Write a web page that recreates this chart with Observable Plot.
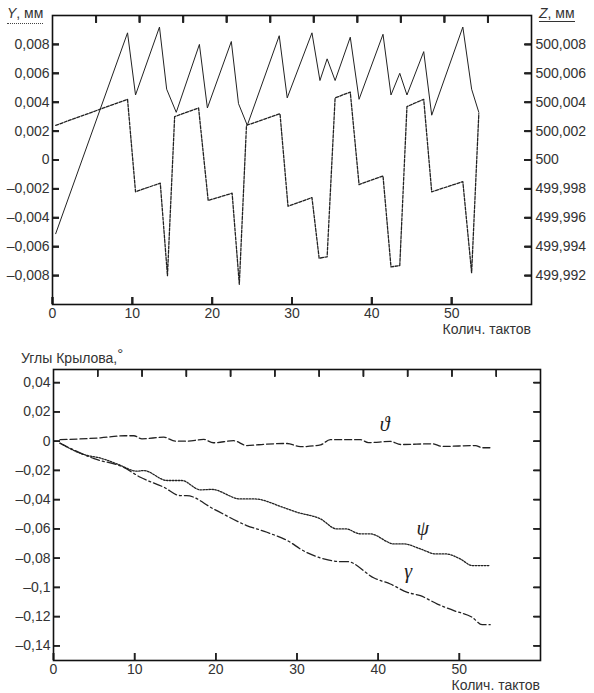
<!DOCTYPE html>
<html><head><meta charset="utf-8">
<script src="https://cdn.jsdelivr.net/npm/d3@7"></script>
<script src="https://cdn.jsdelivr.net/npm/@observablehq/plot@0.6"></script>
<style>
body{margin:0;background:#fff;font-family:"Liberation Sans",Arial,sans-serif;}
#wrap{position:relative;width:594px;height:693px;overflow:hidden;}
#wrap svg{position:absolute;left:0;}
.lbl{position:absolute;font-size:14px;line-height:1;color:#333;white-space:nowrap;}
</style></head><body><div id="wrap"></div>
<script>
// ---------- top chart: Y (dashed) and Z (solid, right axis = 500 + value) ----------
const yX = [0.4, 9.4, 10.4, 13.5, 14.4, 15.3, 18.3, 19.5, 22.5, 23.4, 24.3, 28.5, 29.5, 32.5, 33.4, 34.4, 35.4, 37.3, 38.4, 41.4, 42.4, 43.5, 44.4, 46.5, 47.5, 51.4, 52.5, 53.4];
const yVal = [0.0024, 0.0042, -0.0022, -0.0016, -0.0080, 0.0030, 0.0036, -0.0028, -0.0023, -0.0086, 0.0024, 0.0032, -0.0032, -0.0026, -0.0068, -0.0067, 0.0043, 0.0047, -0.0017, -0.0011, -0.0074, -0.0073, 0.0037, 0.0042, -0.0022, -0.0015, -0.0078, 0.0032];
const zX = [0.4, 9.4, 10.4, 13.4, 14.3, 15.5, 18.4, 19.4, 22.4, 23.3, 24.4, 28.4, 29.4, 32.5, 33.5, 34.4, 35.4, 37.3, 38.4, 41.4, 42.4, 43.5, 44.4, 46.5, 47.5, 51.4, 52.5, 53.4];
const zOffset = [-0.0051, 0.0088, 0.0045, 0.0092, 0.0049, 0.0033, 0.0080, 0.0036, 0.0082, 0.0039, 0.0024, 0.0086, 0.0043, 0.0088, 0.0055, 0.0070, 0.0055, 0.0085, 0.0042, 0.0087, 0.0045, 0.0060, 0.0045, 0.0075, 0.0031, 0.0092, 0.0049, 0.0033];
const zBase = 500;

// ---------- bottom chart: Krylov angles ----------
const thetaX = [0.8, 5.8, 8.8, 9.9, 10.9, 13.6, 15.0, 16.4, 18.5, 19.7, 22.2, 23.8, 26.3, 28.8, 30.4, 32.9, 34.1, 37.8, 38.8, 41.5, 42.8, 46.7, 47.9, 52.0, 52.8, 53.8];
const thetaY = [0.0010, 0.0023, 0.0037, 0.0037, 0.0016, 0.0027, 0.0000, 0.0000, 0.0012, -0.0011, 0.0003, -0.0030, -0.0020, -0.0016, -0.0038, -0.0025, 0.0010, 0.0010, -0.0010, -0.0002, -0.0023, -0.0018, -0.0036, -0.0030, -0.0045, -0.0045];
const psiX = [0.8, 3.7, 5.8, 7.8, 10.3, 11.1, 14.0, 15.8, 18.1, 19.5, 23.0, 24.7, 28.4, 30.0, 32.9, 34.9, 36.0, 37.8, 39.0, 42.0, 43.2, 45.2, 47.1, 48.3, 50.1, 51.6, 53.8];
const psiY = [-0.0014, -0.0091, -0.0116, -0.0155, -0.0205, -0.0201, -0.0269, -0.0269, -0.0333, -0.0330, -0.0395, -0.0395, -0.0455, -0.0486, -0.0532, -0.0600, -0.0600, -0.0634, -0.0634, -0.0703, -0.0703, -0.0737, -0.0771, -0.0771, -0.0805, -0.0851, -0.0851];
const gammaX = [0.8, 5.0, 8.6, 10.7, 13.6, 15.6, 16.4, 19.7, 23.8, 26.3, 29.2, 30.4, 33.3, 35.4, 36.2, 39.5, 41.5, 43.6, 45.2, 47.3, 49.4, 51.6, 52.8, 53.8];
const gammaY = [-0.0014, -0.0120, -0.0178, -0.0247, -0.0315, -0.0372, -0.0372, -0.0463, -0.0577, -0.0623, -0.0692, -0.0737, -0.0805, -0.0824, -0.0824, -0.0936, -0.0977, -0.1034, -0.1057, -0.1114, -0.1160, -0.1205, -0.1255, -0.1255];
const angleNames = ["ϑ", "ψ", "γ"];
const angleLabelX = [40.8, 45.5, 43.7];
const angleLabelY = [0.0115, -0.0600, -0.0895];

// ---------- ticks & texts ----------
const xTicks = [0, 10, 20, 30, 40, 50];
const yTicksTop = [-0.008, -0.006, -0.004, -0.002, 0, 0.002, 0.004, 0.006, 0.008];
const yTicksBottom = [-0.14, -0.12, -0.1, -0.08, -0.06, -0.04, -0.02, 0, 0.02, 0.04];
const xLabel = "Колич. тактов";
const anglesTitle = "Углы Крылова,";

const fmt = d => (d < 0 ? "–" : "") + String(+Math.abs(d).toFixed(3)).replace(".", ",");
const fmtZ = d => String(+(zBase + d).toFixed(3)).replace(".", ",");
const topFrameTicks = d3.range(1, 11).map(k => k * 60 / 11);

const W = 594;
const ink = "#222";
const style = {fontFamily: "'Liberation Sans', Arial, sans-serif", fontSize: "14px", color: "#333", background: "white", overflow: "visible"};

// inward frame ticks: axis tick marks with negative size, plus rules in data units as backup
function frameTicks(xDom, yDom, innerW, innerH, yTicks, sw, len) {
  const ddx = (xDom[1] - xDom[0]) / innerW * len;
  const ddy = (yDom[1] - yDom[0]) / innerH * len;
  const o = {stroke: ink, strokeWidth: sw};
  const a = {tickSize: -len, fill: "none", label: null, stroke: ink, strokeWidth: sw};
  return [
    Plot.axisX(xTicks, {anchor: "bottom", ...a}),
    Plot.axisX(topFrameTicks, {anchor: "top", ...a}),
    Plot.axisY(yTicks, {anchor: "left", ...a}),
    Plot.axisY(yTicks, {anchor: "right", ...a}),
    Plot.ruleX(xTicks, {x: d => d, y1: () => yDom[0], y2: () => yDom[0] + ddy, ...o}),
    Plot.ruleX(topFrameTicks, {x: d => d, y1: () => yDom[1] - ddy, y2: () => yDom[1], ...o}),
    Plot.tickY(yTicks, {y: d => d, insetRight: innerW - len, ...o}),
    Plot.ruleY(yTicks, {y: d => d, x1: () => xDom[1] - ddx, x2: () => xDom[1], ...o})
  ];
}

// top
const tM = {l: 52, r: 63, t: 15, b: 36}, tH = 340;
const tX = [0, 60], tY = [-0.010, 0.010];
const yTable = yX.map((x, i) => ({x, y: yVal[i]}));
const zTable = zX.map((x, i) => ({x, y: zOffset[i]}));
const topPlot = Plot.plot({
  width: W, height: tH,
  marginLeft: tM.l, marginRight: tM.r, marginTop: tM.t, marginBottom: tM.b,
  style,
  x: {domain: tX},
  y: {domain: tY},
  marks: [
    Plot.axisX(xTicks, {tickSize: 0, tickPadding: 4, tickFormat: d => String(d), label: null}),
    Plot.axisY(yTicksTop, {anchor: "left", tickSize: 0, tickPadding: 3, tickFormat: fmt, label: null}),
    Plot.axisY(yTicksTop, {anchor: "right", tickSize: 0, tickPadding: 4, tickFormat: fmtZ, label: null}),
    ...frameTicks(tX, tY, W - tM.l - tM.r, tH - tM.t - tM.b, yTicksTop, 2, 7),
    Plot.line(zTable, {x: "x", y: "y", stroke: ink, strokeWidth: 1}),
    Plot.line(yTable, {x: "x", y: "y", stroke: ink, strokeWidth: 1.3, strokeDasharray: "3,1.5"}),
    Plot.frame({stroke: "#111", strokeWidth: 1.6})
  ]
});
topPlot.style.top = "0px";

// bottom
const bM = {l: 53, r: 54, t: 29, b: 33}, bH = 353;
const bX = [0, 60], bY = [-0.15, 0.049];
const thetaTable = thetaX.map((x, i) => ({x, y: thetaY[i]}));
const psiTable = psiX.map((x, i) => ({x, y: psiY[i]}));
const gammaTable = gammaX.map((x, i) => ({x, y: gammaY[i]}));
const labelTable = angleNames.map((t, i) => ({t, x: angleLabelX[i], y: angleLabelY[i]}));
const botPlot = Plot.plot({
  width: W, height: bH,
  marginLeft: bM.l, marginRight: bM.r, marginTop: bM.t, marginBottom: bM.b,
  style,
  x: {domain: bX},
  y: {domain: bY},
  marks: [
    Plot.axisX(xTicks, {tickSize: 0, tickPadding: 4, tickFormat: d => String(d), label: null}),
    Plot.axisY(yTicksBottom, {anchor: "left", tickSize: 0, tickPadding: 3, tickFormat: fmt, label: null}),
    ...frameTicks(bX, bY, W - bM.l - bM.r, bH - bM.t - bM.b, yTicksBottom, 1.6, 7),
    Plot.line(thetaTable, {x: "x", y: "y", stroke: ink, strokeWidth: 1.3, strokeDasharray: "7,3", curve: "monotone-x"}),
    Plot.line(psiTable, {x: "x", y: "y", stroke: ink, strokeWidth: 1.3, strokeDasharray: "1.6,1.4", curve: "monotone-x"}),
    Plot.line(gammaTable, {x: "x", y: "y", stroke: ink, strokeWidth: 1.3, strokeDasharray: "9,3,2,3", curve: "monotone-x"}),
    Plot.text(labelTable, {x: "x", y: "y", text: "t", fontFamily: "'Liberation Serif', 'DejaVu Serif', serif", fontStyle: "italic", fontSize: 20, fill: ink}),
    Plot.frame({stroke: "#111", strokeWidth: 1.6})
  ]
});
botPlot.style.top = "340px";

const wrap = document.getElementById("wrap");
wrap.append(topPlot, botPlot);

function addLabel(html, css) {
  const d = document.createElement("div");
  d.className = "lbl";
  d.innerHTML = html;
  Object.assign(d.style, css);
  wrap.append(d);
  return d;
}
addLabel('<i>Y</i>, мм', {left: "7px", top: "6px", borderBottom: "1.5px dotted #444", paddingBottom: "3px"});
addLabel('<i>Z</i>, мм', {left: "539px", top: "6px", borderBottom: "1.2px solid #333", paddingBottom: "1px"});
addLabel(xLabel, {right: (W - 531) + "px", top: "322px"});
addLabel(xLabel, {right: (W - 540) + "px", top: "678px"});
addLabel(anglesTitle + '<span style="font-size:15px;vertical-align:4px">°</span>', {left: "21px", top: "346px"});
</script></body></html>
